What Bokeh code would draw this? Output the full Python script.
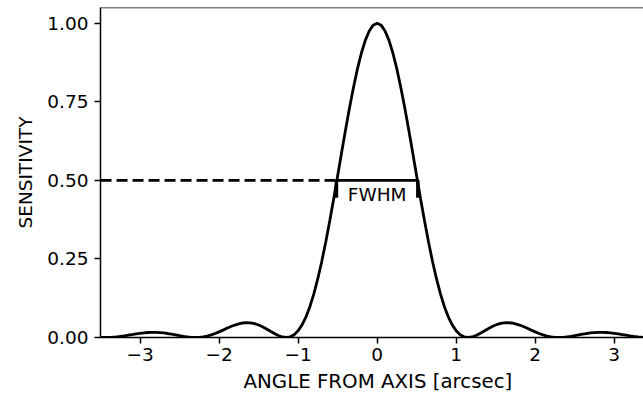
from bokeh.plotting import figure
from bokeh.models import Range1d, FixedTicker, Span, Title
from bokeh.core.properties import value
from bokeh.embed import file_html
from bokeh.resources import INLINE

# ---- data ----
X_ANGLE = [
    -3.50, -3.45, -3.40, -3.35, -3.30, -3.25, -3.20, -3.15, -3.10, -3.05,
    -3.00, -2.95, -2.90, -2.85, -2.80, -2.75, -2.70, -2.65, -2.60, -2.55,
    -2.50, -2.45, -2.40, -2.35, -2.30, -2.25, -2.20, -2.15, -2.10, -2.05,
    -2.00, -1.95, -1.90, -1.85, -1.80, -1.75, -1.70, -1.65, -1.60, -1.55,
    -1.50, -1.45, -1.40, -1.35, -1.30, -1.25, -1.20, -1.15, -1.10, -1.05,
    -1.00, -0.95, -0.90, -0.85, -0.80, -0.75, -0.70, -0.65, -0.60, -0.55,
    -0.50, -0.45, -0.40, -0.35, -0.30, -0.25, -0.20, -0.15, -0.10, -0.05,
    0.00, 0.05, 0.10, 0.15, 0.20, 0.25, 0.30, 0.35, 0.40, 0.45,
    0.50, 0.55, 0.60, 0.65, 0.70, 0.75, 0.80, 0.85, 0.90, 0.95,
    1.00, 1.05, 1.10, 1.15, 1.20, 1.25, 1.30, 1.35, 1.40, 1.45,
    1.50, 1.55, 1.60, 1.65, 1.70, 1.75, 1.80, 1.85, 1.90, 1.95,
    2.00, 2.05, 2.10, 2.15, 2.20, 2.25, 2.30, 2.35, 2.40, 2.45,
    2.50, 2.55, 2.60, 2.65, 2.70, 2.75, 2.80, 2.85, 2.90, 2.95,
    3.00, 3.05, 3.10, 3.15, 3.20, 3.25, 3.30, 3.35, 3.40, 3.45,
    3.50,
]
SENSITIVITY = [
    0.0002, 0.0000, 0.0002, 0.0009, 0.0020, 0.0034, 0.0052, 0.0072, 0.0093, 0.0114,
    0.0132, 0.0148, 0.0159, 0.0164, 0.0164, 0.0157, 0.0145, 0.0127, 0.0106, 0.0082,
    0.0058, 0.0035, 0.0017, 0.0005, 0.0000, 0.0005, 0.0020, 0.0046, 0.0082, 0.0127,
    0.0179, 0.0235, 0.0293, 0.0348, 0.0396, 0.0436, 0.0462, 0.0472, 0.0465, 0.0440,
    0.0397, 0.0340, 0.0272, 0.0198, 0.0126, 0.0062, 0.0017, 0.0000, 0.0021, 0.0088,
    0.0213, 0.0401, 0.0659, 0.0990, 0.1397, 0.1878, 0.2428, 0.3040, 0.3705, 0.4409,
    0.5138, 0.5875, 0.6602, 0.7301, 0.7949, 0.8539, 0.9044, 0.9453, 0.9754, 0.9938,
    1.0000, 0.9938, 0.9754, 0.9453, 0.9044, 0.8539, 0.7949, 0.7301, 0.6602, 0.5875,
    0.5138, 0.4409, 0.3705, 0.3040, 0.2428, 0.1878, 0.1397, 0.0990, 0.0659, 0.0401,
    0.0213, 0.0088, 0.0021, 0.0000, 0.0017, 0.0062, 0.0126, 0.0198, 0.0272, 0.0340,
    0.0397, 0.0440, 0.0465, 0.0472, 0.0462, 0.0436, 0.0396, 0.0348, 0.0293, 0.0235,
    0.0179, 0.0127, 0.0082, 0.0046, 0.0020, 0.0005, 0.0000, 0.0005, 0.0017, 0.0035,
    0.0058, 0.0082, 0.0106, 0.0127, 0.0145, 0.0157, 0.0164, 0.0164, 0.0159, 0.0148,
    0.0132, 0.0114, 0.0093, 0.0072, 0.0052, 0.0034, 0.0020, 0.0009, 0.0002, 0.0000,
    0.0002,
]
HALF_MAX = 0.5
FWHM_LEFT = -0.515
FWHM_RIGHT = 0.515
FWHM_CAP_BOTTOM = 0.445
FWHM_LABEL = "FWHM"
FWHM_LABEL_Y = 0.454

X_TICKS = [-3, -2, -1, 0, 1, 2, 3]
X_TICK_LABELS = ["\u22123", "\u22122", "\u22121", "0", "1", "2", "3"]
Y_TICKS = [0.0, 0.25, 0.5, 0.75, 1.0]
Y_TICK_LABELS = ["0.00", "0.25", "0.50", "0.75", "1.00"]
X_TITLE = "ANGLE FROM AXIS [arcsec]"
Y_TITLE = "SENSITIVITY"
X_MIN, X_MAX = -3.5, 3.37
Y_MIN, Y_MAX = 0.0, 1.05

FONT = "DejaVu Sans"
FS = "18.5px"
FS_XTITLE = "19.8px"

p = figure(width=643, height=398, output_backend="svg", toolbar_location=None,
           x_range=Range1d(X_MIN, X_MAX), y_range=Range1d(Y_MIN, Y_MAX),
           min_border_left=100, min_border_right=0, min_border_top=7,
           min_border_bottom=61)
p.outline_line_color = None
p.grid.visible = False
p.background_fill_color = "white"
p.border_fill_color = "white"

# main curve
p.line(X_ANGLE, SENSITIVITY, line_color="black", line_width=2.8)
# dashed half-maximum guide
p.line([X_MIN, FWHM_LEFT], [HALF_MAX, HALF_MAX], line_color="black",
       line_width=2.8, line_dash="11 5")
# FWHM bar
p.line([FWHM_LEFT, FWHM_RIGHT], [HALF_MAX, HALF_MAX], line_color="black",
       line_width=2.8)
p.segment(x0=[FWHM_LEFT, FWHM_RIGHT], y0=[HALF_MAX, HALF_MAX],
          x1=[FWHM_LEFT, FWHM_RIGHT], y1=[FWHM_CAP_BOTTOM, FWHM_CAP_BOTTOM],
          line_color="black", line_width=3.5)
p.text(x=[0], y=[FWHM_LABEL_Y], text=[FWHM_LABEL], text_font=value(FONT),
       text_font_size=FS, text_align="center", text_baseline="middle",
       text_color="black")

# top spine
p.add_layout(Span(location=Y_MAX, dimension="width", line_color="black",
                  line_width=1.5))

for ax in (p.xaxis[0], p.yaxis[0]):
    ax.axis_line_width = 1.5
    ax.axis_line_color = "black"
    ax.major_tick_line_width = 1.5
    ax.major_tick_line_color = "black"
    ax.major_tick_in = 0
    ax.major_tick_out = 6
    ax.minor_tick_line_color = None
    ax.major_label_text_font = FONT
    ax.major_label_text_font_size = FS
    ax.major_label_text_color = "black"

p.xaxis[0].ticker = FixedTicker(ticks=X_TICKS)
p.xaxis[0].major_label_overrides = dict(zip(X_TICKS, X_TICK_LABELS))
p.xaxis[0].major_label_standoff = 4

p.yaxis[0].ticker = FixedTicker(ticks=Y_TICKS)
p.yaxis[0].major_label_overrides = dict(zip(Y_TICKS, Y_TICK_LABELS))
p.yaxis[0].major_label_standoff = 6
p.yaxis[0].axis_label = Y_TITLE
p.yaxis[0].axis_label_text_font = FONT
p.yaxis[0].axis_label_text_font_size = FS
p.yaxis[0].axis_label_text_font_style = "normal"
p.yaxis[0].axis_label_text_color = "black"
p.yaxis[0].axis_label_standoff = 8

p.add_layout(Title(text=X_TITLE, text_font=FONT, text_font_size=FS_XTITLE,
                   text_font_style="normal", text_color="black",
                   align="left", offset=143, standoff=9), "below")

open("out.html", "w").write(file_html(p, INLINE))
